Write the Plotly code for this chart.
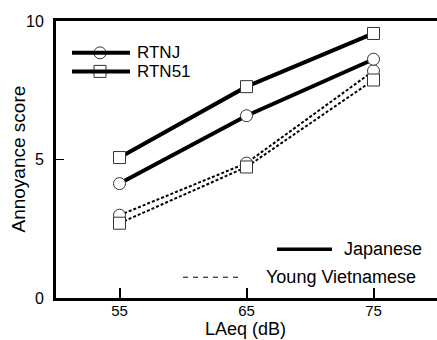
import plotly.graph_objects as go

laeq = [55, 65, 75]
jp_rtnj = [4.13, 6.58, 8.62]
jp_rtn51 = [5.07, 7.63, 9.55]
vn_rtnj = [2.99, 4.87, 8.2]
vn_rtn51 = [2.7, 4.73, 7.87]

FONT = "Liberation Sans, Arial, sans-serif"
PW, PH = 381, 277  # plot area size in px

fig = go.Figure()

def add(y, symbol, dash, width):
    fig.add_trace(go.Scatter(
        x=laeq, y=y, mode="lines+markers",
        line=dict(color="black", width=width, dash=dash),
        marker=dict(symbol=symbol, size=12, color="white",
                    line=dict(color="#333333", width=1)),
        showlegend=False, cliponaxis=False))

add(vn_rtnj, "circle", "3px,2px", 2)
add(vn_rtn51, "square", "3px,2px", 2)
add(jp_rtnj, "circle", "solid", 4)
add(jp_rtn51, "square", "solid", 4)

# top-left legend (symbols)
legend_items = [(0.885, "circle", "RTNJ"), (0.818, "square", "RTN51")]
for yy, sym, label in legend_items:
    fig.add_shape(type="line", xref="paper", yref="paper",
                  x0=16/PW, x1=74/PW, y0=yy, y1=yy,
                  line=dict(color="black", width=4))
    fig.add_trace(go.Scatter(x=[44/PW], y=[yy], xaxis="x2", yaxis="y2",
                             mode="markers", showlegend=False, hoverinfo="skip",
                             marker=dict(symbol=sym, size=12, color="white",
                                         line=dict(color="#333333", width=1))))
    fig.add_annotation(xref="paper", yref="paper", x=79/PW, y=yy,
                       xanchor="left", yanchor="middle", text=label,
                       showarrow=False, font=dict(family=FONT, size=17, color="black"))

# bottom-right legend (line styles)
fig.add_shape(type="line", xref="paper", yref="paper",
              x0=221/PW, x1=276/PW, y0=0.176, y1=0.176,
              line=dict(color="black", width=3.5))
fig.add_annotation(xref="paper", yref="paper", x=286/PW, y=0.176,
                   xanchor="left", yanchor="middle", text="Japanese",
                   showarrow=False, font=dict(family=FONT, size=18, color="black"))
fig.add_shape(type="line", xref="paper", yref="paper",
              x0=127/PW, x1=187/PW, y0=0.075, y1=0.075,
              line=dict(color="black", width=1, dash="5px,5px"))
fig.add_annotation(xref="paper", yref="paper", x=208/PW, y=0.075,
                   xanchor="left", yanchor="middle", text="Young Vietnamese",
                   showarrow=False, font=dict(family=FONT, size=18, color="black"))

# x-axis title at the bottom edge like the reference
fig.add_annotation(xref="paper", yref="paper", x=(245-56)/PW, y=-(340-297.7)/PH,
                   xanchor="center", yanchor="bottom", text="LAeq (dB)",
                   showarrow=False, borderpad=0,
                   font=dict(family=FONT, size=18, color="black"))

# y-axis title
fig.add_annotation(xref="paper", yref="paper", x=-(56-18)/PW, y=0.5,
                   xanchor="center", yanchor="middle", text="Annoyance score",
                   textangle=-90, showarrow=False, borderpad=0,
                   font=dict(family=FONT, size=19, color="black"))

fig.update_layout(
    width=437, height=340,
    margin=dict(l=56, r=0, t=21, b=42),
    paper_bgcolor="white", plot_bgcolor="white",
    font=dict(family=FONT, color="black", size=16),
    xaxis=dict(range=[50, 80], tickvals=laeq, ticktext=[str(v) for v in laeq],
               ticks="inside", ticklen=10, tickwidth=2, tickcolor="black",
               showline=True, linewidth=3, linecolor="black", mirror=True,
               showgrid=False, zeroline=False, tickfont=dict(size=15),
               ticklabelstandoff=-3),
    yaxis=dict(range=[0, 10], tickvals=[0, 5, 10],
               ticks="inside", ticklen=8, tickwidth=1, tickcolor="black",
               showline=True, linewidth=3, linecolor="black",
               showgrid=False, zeroline=False, ticklabelstandoff=6),
    xaxis2=dict(domain=[0.0, 1.0], range=[0, 1], visible=False, overlaying="x"),
    yaxis2=dict(domain=[0.0, 1.0], range=[0, 1], visible=False, overlaying="y"),
)

fig.write_html("out.html")
